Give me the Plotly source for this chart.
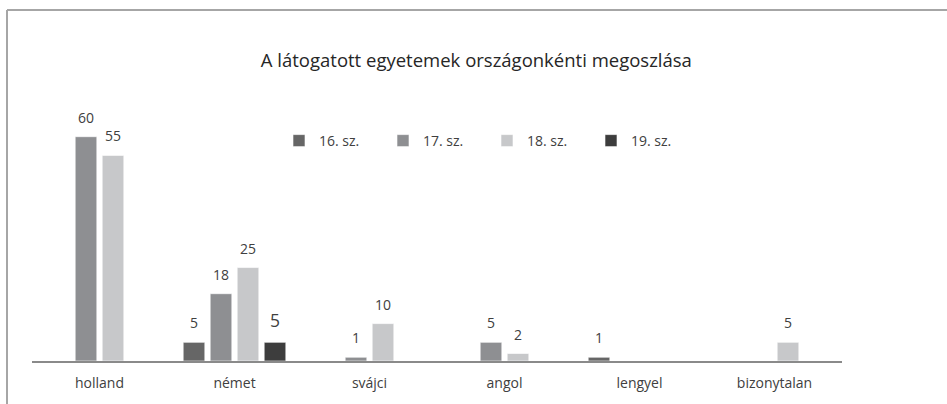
import plotly.graph_objects as go

categories = ["holland", "német", "svájci", "angol", "lengyel", "bizonytalan"]
series_names = ["16. sz.", "17. sz.", "18. sz.", "19. sz."]
v16 = [None, 5, None, None, 1, None]
v17 = [60, 18, 1, 5, None, None]
v18 = [55, 25, 10, 2, None, 5]
v19 = [None, 5, None, None, None, None]
series_values = [v16, v17, v18, v19]
colors = ["#666666", "#8e8f92", "#c7c8ca", "#3d3d3d"]
label_sizes = [14, 14, 14, 17.5]

FONT = "Open Sans, Carlito, Calibri, sans-serif"
W, H = 947, 404
ML, MR, MT, MB = 32, 105, 118, 43
plot_w = W - ML - MR
plot_h = H - MT - MB
bargap = 0.2
n = len(series_names)
slot_px = plot_w / len(categories) * (1 - bargap) / n

fig = go.Figure()
for i, (name, vals, col) in enumerate(zip(series_names, series_values, colors)):
    fig.add_trace(go.Bar(
        x=categories, y=vals, name=name,
        marker=dict(color=col, line=dict(color="white", width=0.6)),
        hoverinfo="x+y+name",
    ))
    for c, v in zip(categories, vals):
        if v is None:
            continue
        fig.add_annotation(
            x=c, y=v, xref="x", yref="y", text=str(v), showarrow=False,
            xshift=(i - (n - 1) / 2) * slot_px, yshift=8, yanchor="bottom",
            font=dict(family=FONT, size=label_sizes[i], color="#404040"),
        )

# outer frame (top and left edge)
x_left = (7 - ML) / plot_w
y_top = (H - MB - 10) / plot_h
y_bot = (H - MB - H - 5) / plot_h
fig.add_shape(type="line", xref="paper", yref="paper", x0=x_left, x1=(W + 5 - ML) / plot_w,
              y0=y_top, y1=y_top, line=dict(color="#a6a6a6", width=2))
fig.add_shape(type="line", xref="paper", yref="paper", x0=x_left, x1=x_left,
              y0=y_top, y1=y_bot, line=dict(color="#a6a6a6", width=2))

fig.update_layout(
    width=W, height=H,
    margin=dict(l=ML, r=MR, t=MT, b=MB, autoexpand=False),
    paper_bgcolor="white", plot_bgcolor="white",
    barmode="group", bargap=bargap, bargroupgap=0.2,
    font=dict(family=FONT, size=13, color="#404040"),
    title=dict(text="A látogatott egyetemek országonkénti megoszlása",
               x=0.503, xref="container", xanchor="center",
               y=1 - 61 / H, yref="container", yanchor="middle",
               font=dict(family=FONT, size=18.5, color="#262626")),
    legend=dict(orientation="h", x=(279 - ML) / plot_w, xanchor="left",
                y=(H - MB - 141) / plot_h, yanchor="middle",
                entrywidth=59, entrywidthmode="pixels",
                font=dict(family=FONT, size=14, color="#404040"),
                bgcolor="rgba(0,0,0,0)", traceorder="normal"),
    xaxis=dict(showline=True, linecolor="#8a8a8a", linewidth=1.5, ticks="",
               showgrid=False, zeroline=False, ticklabelstandoff=8,
               tickfont=dict(family=FONT, size=14, color="#404040")),
    yaxis=dict(range=[0, 65], visible=False, showgrid=False, zeroline=False),
    showlegend=True,
)

fig.write_html("out.html", config={"displayModeBar": False},
               post_script="document.body.style.margin='0px';")
